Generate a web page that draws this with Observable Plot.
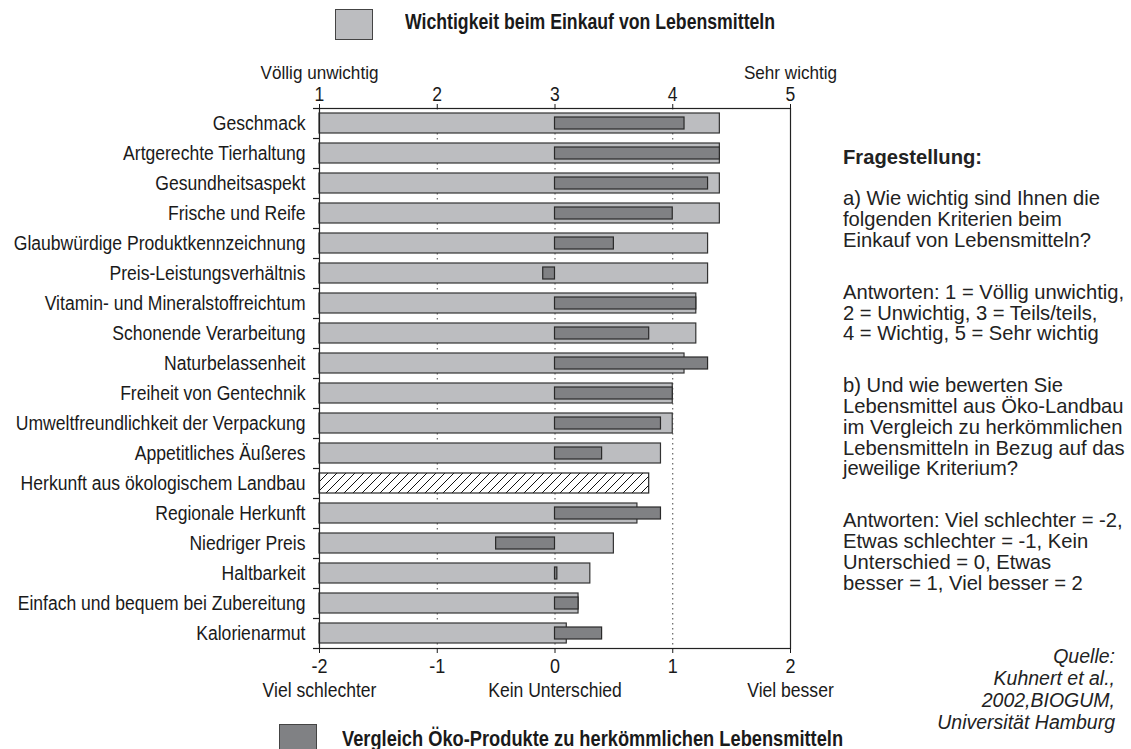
<!DOCTYPE html>
<html><head><meta charset="utf-8">
<script src="https://cdn.jsdelivr.net/npm/d3@7"></script>
<script src="https://cdn.jsdelivr.net/npm/@observablehq/plot@0.6"></script>
<style>
body{margin:0;background:#fff;width:1131px;height:749px;position:relative;overflow:hidden;}
#chart{position:absolute;left:0;top:0;}
.leg{position:absolute;font-family:'Liberation Sans',Arial,sans-serif;font-weight:bold;font-size:21.5px;line-height:21.5px;color:#1a1a1a;white-space:nowrap;transform:scaleX(0.822);transform-origin:0 0;}
.sw{position:absolute;box-sizing:border-box;border:1px solid #444;}
#note{position:absolute;left:843px;top:146.6px;font-family:'Liberation Sans',Arial,sans-serif;font-size:20.2px;line-height:20.8px;color:#222;white-space:nowrap;}
#note p{margin:0 0 31px 0;}
#note p.h{margin-bottom:21px;font-weight:bold;}
#src{position:absolute;right:16px;top:645px;font-family:'Liberation Sans',Arial,sans-serif;font-style:italic;font-size:19.5px;line-height:22px;color:#222;text-align:right;white-space:nowrap;}
</style></head>
<body>
<div id="chart"></div>
<div class="sw" style="left:335px;top:9px;width:38px;height:31px;background:#bcbdc0"></div>
<div class="leg" style="left:405px;top:11.8px">Wichtigkeit beim Einkauf von Lebensmitteln</div>
<div class="sw" style="left:279px;top:724px;width:38px;height:32px;background:#808184"></div>
<div class="leg" style="left:342px;top:728.5px;transform:scaleX(0.849)">Vergleich Öko-Produkte zu herkömmlichen Lebensmitteln</div>
<div id="note">
<p class="h">Fragestellung:</p>
<p>a) Wie wichtig sind Ihnen die<br>folgenden Kriterien beim<br>Einkauf von Lebensmitteln?</p>
<p>Antworten: 1 = Völlig unwichtig,<br>2 = Unwichtig, 3 = Teils/teils,<br>4 = Wichtig, 5 = Sehr wichtig</p>
<p>b) Und wie bewerten Sie<br>Lebensmittel aus Öko-Landbau<br>im Vergleich zu herkömmlichen<br>Lebensmitteln in Bezug auf das<br>jeweilige Kriterium?</p>
<p>Antworten: Viel schlechter = -2,<br>Etwas schlechter = -1, Kein<br>Unterschied = 0, Etwas<br>besser = 1, Viel besser = 2</p>
</div>
<div id="src">Quelle:<br>Kuhnert et al.,<br>2002,BIOGUM,<br>Universität Hamburg</div>
<script>
const categories = ["Geschmack","Artgerechte Tierhaltung","Gesundheitsaspekt","Frische und Reife","Glaubwürdige Produktkennzeichnung","Preis-Leistungsverhältnis","Vitamin- und Mineralstoffreichtum","Schonende Verarbeitung","Naturbelassenheit","Freiheit von Gentechnik","Umweltfreundlichkeit der Verpackung","Appetitliches Äußeres","Herkunft aus ökologischem Landbau","Regionale Herkunft","Niedriger Preis","Haltbarkeit","Einfach und bequem bei Zubereitung","Kalorienarmut"];
const importance = [4.4,4.4,4.4,4.4,4.3,4.3,4.2,4.2,4.1,4.0,4.0,3.9,3.8,3.7,3.5,3.3,3.2,3.1];
const comparison = [1.1,1.4,1.3,1.0,0.5,-0.1,1.2,0.8,1.3,1.0,0.9,0.4,null,0.9,-0.5,0.02,0.2,0.4];
const hatchedCategories = ["Herkunft aus ökologischem Landbau"];
const importanceTicks = [1,2,3,4,5];
const comparisonTickLabels = ["-2","-1","0","1","2"];
const importanceEndLabels = ["Völlig unwichtig","Sehr wichtig"];
const comparisonEndLabels = ["Viel schlechter","Kein Unterschied","Viel besser"];
const neutralImportance = 3; // "Teils/teils" on the importance scale == 0 on the comparison scale

const rows = categories.map((c,i)=>({cat:c, imp:importance[i], cmp:comparison[i]}));
const plainRows = rows.filter(d=>!hatchedCategories.includes(d.cat));
const hatchRows = rows.filter(d=>hatchedCategories.includes(d.cat));
const cmpRows = rows.filter(d=>d.cmp!=null);
const endTop = [importanceTicks[0], importanceTicks[4]];
const endBottom = [importanceTicks[0], importanceTicks[2], importanceTicks[4]];

const font = "'Liberation Sans',Arial,sans-serif";
const svg = Plot.plot({
  width:1131, height:749,
  marginLeft:319, marginRight:341, marginTop:108, marginBottom:101,
  style:{fontFamily:font, fontSize:"20px", color:"#1a1a1a", background:"transparent", overflow:"visible"},
  x:{domain:[1,5]},
  y:{domain:categories, paddingInner:1/3, paddingOuter:1/6},
  marks:[
    Plot.ruleX([2,3,4], {stroke:"#444", strokeDasharray:"1.5,3.5", strokeWidth:1}),
    Plot.barX(plainRows, {x1:()=>1, x2:"imp", y:"cat", fill:"#bcbdc0", stroke:"#333", strokeWidth:1.2}),
    Plot.barX(hatchRows, {x1:()=>1, x2:"imp", y:"cat", fill:"url(#hatch)", stroke:"#222", strokeWidth:1.2}),
    Plot.barX(cmpRows, {x1:()=>neutralImportance, x2:d=>neutralImportance+d.cmp, y:"cat", fill:"#808184", stroke:"#2a2a2a", strokeWidth:1.2, insetTop:4, insetBottom:4}),
    Plot.frame({stroke:"#222", strokeWidth:1.2}),
    Plot.axisX(importanceTicks, {anchor:"top", tickSize:5, tickPadding:3, fontSize:19.5, label:null, tickFormat:d=>String(d)}),
    Plot.axisX(endTop, {anchor:"top", tickSize:0, tickPadding:0, fontSize:19, label:null, dy:-30, tickFormat:d=>importanceEndLabels[endTop.indexOf(d)]}),
    Plot.axisX(importanceTicks, {anchor:"bottom", tickSize:5, tickPadding:5, fontSize:20, label:null, tickFormat:d=>comparisonTickLabels[importanceTicks.indexOf(d)]}),
    Plot.axisX(endBottom, {anchor:"bottom", tickSize:0, tickPadding:0, fontSize:19.5, label:null, dy:35, tickFormat:d=>comparisonEndLabels[endBottom.indexOf(d)]}),
    Plot.axisY({tickSize:0, tickPadding:14, fontSize:19.5, label:null}),
    Plot.axisY({tickSize:6, tickFormat:()=>"", label:null, dy:-15, strokeWidth:1.2}),
    Plot.axisY([categories[categories.length-1]], {tickSize:6, tickFormat:()=>"", label:null, dy:15, strokeWidth:1.2})
  ]
});
d3.select(svg).insert("defs", ":first-child").html(
  '<pattern id="hatch" patternUnits="userSpaceOnUse" width="9" height="9">' +
  '<rect width="9" height="9" fill="white"/>' +
  '<path d="M-1,1 l2,-2 M0,9 l9,-9 M8,10 l2,-2" stroke="#111" stroke-width="1"/></pattern>');
document.getElementById("chart").appendChild(svg);
// condensed look (reference uses a condensed sans): compress glyphs horizontally
svg.querySelectorAll("text").forEach(t=>{
  const w = t.getComputedTextLength();
  if (w > 0) { t.setAttribute("textLength", (w*0.9).toFixed(2)); t.setAttribute("lengthAdjust","spacingAndGlyphs"); }
});
</script>
</body></html>
